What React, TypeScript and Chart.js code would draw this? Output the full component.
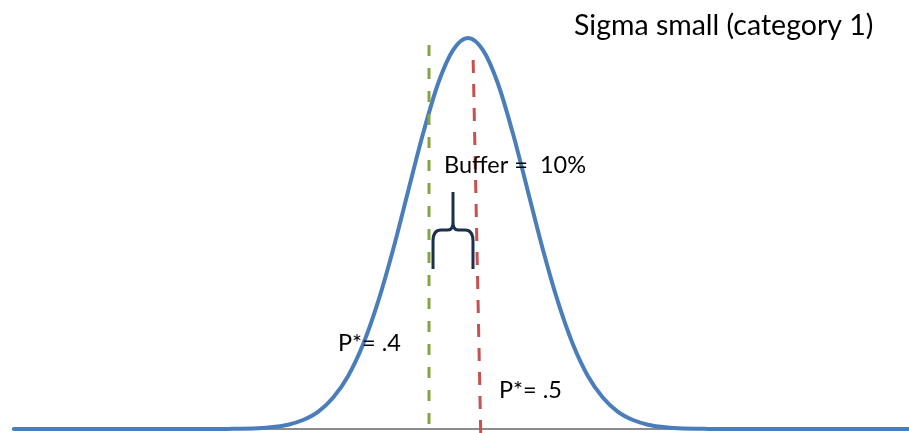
import React, { useEffect, useRef } from "react";
import { Chart, registerables } from "chart.js";

Chart.register(...registerables);

// Bell curve, x in standard-deviation units, y relative density (peak = 1)
const curveX = [-7.57, -4.5, -4, -3.5, -3.25, -3, -2.75, -2.5, -2.25, -2, -1.75, -1.5, -1.25, -1, -0.75, -0.5, -0.25, 0, 0.25, 0.5, 0.75, 1, 1.25, 1.5, 1.75, 2, 2.25, 2.5, 2.75, 3, 3.25, 3.5, 4, 4.5, 7.35];
const curveY = [0, 0, 0.0003, 0.002, 0.005, 0.011, 0.023, 0.044, 0.08, 0.135, 0.216, 0.325, 0.458, 0.607, 0.755, 0.883, 0.969, 1, 0.969, 0.883, 0.755, 0.607, 0.458, 0.325, 0.216, 0.135, 0.08, 0.044, 0.023, 0.011, 0.005, 0.002, 0.0003, 0, 0];

// Baseline (axis)
const baseX = [-7.57, 7.35];
const baseY = [0, 0];

// P* = .4 (green dashed)
const greenX = [-0.65, -0.65];
const greenY = [0.013, 1.0];

// P* = .5 (red dashed), drawn bottom to top
const redX = [0.212, 0.083];
const redY = [-0.0102, 0.964];

// Curly brace between the two lines
const braceLeft = -0.583;
const braceRight = 0.083;
const braceTip = -0.25;
const braceBottom = 0.409;
const braceMid = 0.509;
const braceTop = 0.606;

const labels = ["Sigma small (category 1)", "Buffer =  10%", "P*= .4", "P*= .5"];

const X_MIN = -7.8;
const X_MAX = 7.35;
const Y_MIN = -0.0102;
const Y_MAX = 1.0972;

const toPts = (xs: number[], ys: number[]) => xs.map((x, i) => ({ x, y: ys[i] }));

export default function App() {
  const ref = useRef<HTMLCanvasElement | null>(null);

  useEffect(() => {
    document.body.style.margin = "0";
    const canvas = ref.current;
    if (!canvas) return;

    const overlay = {
      id: "overlay",
      afterDatasetsDraw(chart: any) {
        const ctx = chart.ctx as CanvasRenderingContext2D;
        const xs = chart.scales.x;
        const ys = chart.scales.y;
        const L = xs.getPixelForValue(braceLeft);
        const R = xs.getPixelForValue(braceRight);
        const T = xs.getPixelForValue(braceTip);
        const B = ys.getPixelForValue(braceBottom);
        const M = ys.getPixelForValue(braceMid);
        const Tp = ys.getPixelForValue(braceTop);
        ctx.save();
        ctx.strokeStyle = "#1c2f4c";
        ctx.lineWidth = 3;
        ctx.lineCap = "butt";
        ctx.lineJoin = "round";
        ctx.beginPath();
        ctx.moveTo(L, B);
        ctx.lineTo(L, M + 11);
        ctx.quadraticCurveTo(L, M, L + 8, M);
        ctx.lineTo(T - 5, M);
        ctx.quadraticCurveTo(T, M, T, M - 8);
        ctx.lineTo(T, Tp);
        ctx.moveTo(T, M - 8);
        ctx.quadraticCurveTo(T, M, T + 5, M);
        ctx.lineTo(R - 8, M);
        ctx.quadraticCurveTo(R, M, R, M + 11);
        ctx.lineTo(R, B);
        ctx.stroke();

        ctx.fillStyle = "#000000";
        ctx.textBaseline = "alphabetic";
        ctx.textAlign = "left";
        ctx.font = "28.5px Lato";
        ctx.fillText(labels[0], 574, 35);
        ctx.font = "23.5px Lato";
        ctx.fillText(labels[1], 444, 173);
        ctx.font = "23.5px Lato";
        ctx.fillText(labels[2], 338, 351);
        ctx.fillText(labels[3], 499, 398);
        ctx.restore();
      },
    };

    const chart = new Chart(canvas, {
      type: "line",
      data: {
        datasets: [
          {
            data: toPts(baseX, baseY),
            borderColor: "#8c8c8c",
            borderWidth: 2,
            pointRadius: 0,
            order: 4,
          },
          {
            data: toPts(curveX, curveY),
            borderColor: "#4a7ebb",
            borderWidth: 4,
            pointRadius: 0,
            cubicInterpolationMode: "monotone",
            borderCapStyle: "round",
            order: 3,
          },
          {
            data: toPts(greenX, greenY),
            borderColor: "#86a443",
            borderWidth: 3,
            borderDash: [11, 12],
            pointRadius: 0,
            order: 2,
          },
          {
            data: toPts(redX, redY),
            borderColor: "#c8504d",
            borderWidth: 3,
            borderDash: [13, 11],
            pointRadius: 0,
            order: 1,
          },
        ],
      },
      options: {
        animation: false,
        responsive: false,
        maintainAspectRatio: false,
        layout: { padding: 0 },
        parsing: true,
        scales: {
          x: { type: "linear", min: X_MIN, max: X_MAX, display: false },
          y: { type: "linear", min: Y_MIN, max: Y_MAX, display: false },
        },
        plugins: {
          legend: { display: false },
          tooltip: { enabled: false },
          title: { display: false },
        },
      },
      plugins: [overlay],
    } as any);

    return () => chart.destroy();
  }, []);

  return (
    <div style={{ position: "fixed", left: 0, top: 0, width: 909, height: 433, background: "#ffffff" }}>
      <canvas ref={ref} width={909} height={433} />
    </div>
  );
}
